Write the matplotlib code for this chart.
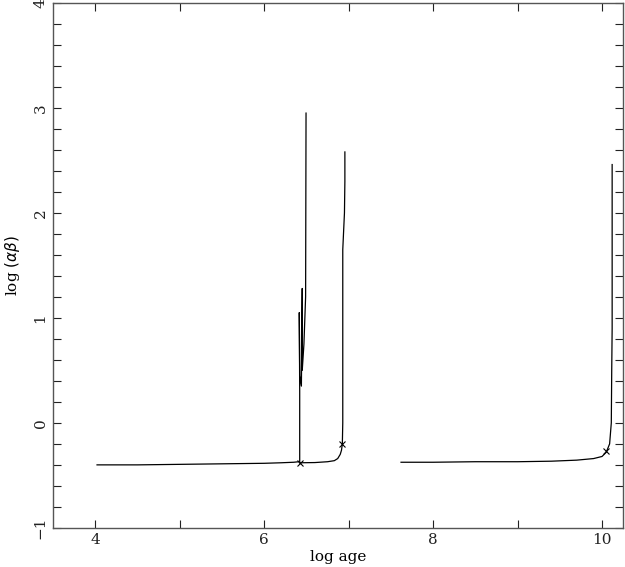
import matplotlib
matplotlib.use("Agg")
import matplotlib.pyplot as plt
from matplotlib.ticker import MultipleLocator, FuncFormatter

# Track 1: early track with spikes near log age 6.4-6.5
t1_x = [4.02, 4.5, 5.0, 5.5, 6.0, 6.2, 6.35, 6.41, 6.42, 6.42, 6.415, 6.42, 6.44,
        6.45, 6.45, 6.47, 6.49, 6.495]
t1_y = [-0.40, -0.40, -0.395, -0.39, -0.385, -0.38, -0.375, -0.37, -0.38, 0.3, 1.05,
        0.45, 0.35, 1.28, 0.5, 0.75, 1.2, 2.95]

# Track 2: continues to log age ~6.95
t2_x = [6.42, 6.6, 6.75, 6.83, 6.87, 6.9, 6.915, 6.925, 6.93, 6.93, 6.95, 6.955, 6.955]
t2_y = [-0.38, -0.378, -0.37, -0.36, -0.34, -0.3, -0.26, -0.2, 0.0, 1.65, 2.0, 2.3, 2.58]

# Track 3: old track to log age ~10.1
t3_x = [7.62, 8.0, 8.5, 9.0, 9.4, 9.7, 9.9, 10.0, 10.05, 10.09, 10.11, 10.115, 10.12, 10.12]
t3_y = [-0.375, -0.375, -0.37, -0.37, -0.365, -0.355, -0.34, -0.32, -0.28, -0.2, 0.0, 0.5,
        0.9, 2.46]

# Marked points (small crosses)
mark_x = [6.42, 6.925, 10.05]
mark_y = [-0.38, -0.2, -0.27]

plt.rcParams['font.family'] = ['DejaVu Serif']
fig = plt.figure(figsize=(6.25, 5.67), dpi=100)
ax = fig.add_axes([0.085, 0.069, 0.912, 0.926])

for xs, ys in [(t1_x, t1_y), (t2_x, t2_y), (t3_x, t3_y)]:
    ax.plot(xs, ys, color='black', lw=0.9)
ax.plot(mark_x, mark_y, ls='none', marker='x', ms=4, mew=0.8, color='black')

ax.set_xlim(3.5, 10.25)
ax.set_ylim(-1, 4)
ax.xaxis.set_major_locator(MultipleLocator(1))
ax.xaxis.set_major_formatter(FuncFormatter(lambda v, p: f"{int(round(v))}" if int(round(v)) % 2 == 0 else ""))
ax.yaxis.set_major_locator(MultipleLocator(1))
ax.yaxis.set_minor_locator(MultipleLocator(0.2))
ax.tick_params(which='both', direction='in', top=True, right=True, length=6, width=0.8,
               labelsize=11, colors='#222222', pad=4)
for lab in ax.get_yticklabels():
    lab.set_rotation(90)
    lab.set_va('center')
for s in ax.spines.values():
    s.set_color('#555555')
    s.set_linewidth(1.0)
ax.set_xlabel('log age', fontsize=11, labelpad=2)
ax.set_ylabel(r'log $(\alpha\beta)$', fontsize=11, labelpad=8)
fig.savefig('out.png', dpi=100)
